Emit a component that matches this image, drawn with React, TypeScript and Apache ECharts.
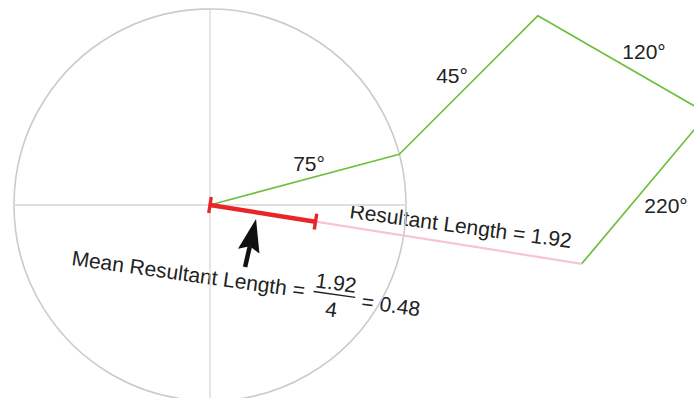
import React, { useEffect, useRef } from "react";
import * as echarts from "echarts";

// ---- data ----
const bearingsDeg = [75, 45, 120, 220];
const angleLabels = ["75°", "45°", "120°", "220°"];
const resultantLength = 1.92;
const sampleSize = 4;
const meanResultantLength = 0.48;
const drawnMeanLength = 0.545; // red bar length as drawn in the picture (unit-circle units)
const arrowTail = [0.179, -0.316];
const arrowTip = [0.235, -0.071];

const FONT = "Liberation Sans, Arial, Helvetica, sans-serif";
const TXT = "#222222";

function buildPath(): number[][] {
  const pts: number[][] = [[0, 0]];
  let x = 0;
  let y = 0;
  for (const b of bearingsDeg) {
    const r = (b * Math.PI) / 180;
    x += Math.sin(r);
    y += Math.cos(r);
    pts.push([x, y]);
  }
  return pts;
}

function txt(text: string, x: number, y: number, align = "center", vAlign = "middle") {
  return {
    type: "text",
    x,
    y,
    silent: true,
    style: {
      text,
      font: `21px ${FONT}`,
      fill: TXT,
      align,
      verticalAlign: vAlign,
      textAlign: align,
      textVerticalAlign: vAlign,
    },
  };
}

export default function App() {
  const ref = useRef<HTMLDivElement>(null);
  useEffect(() => {
    if (!ref.current) return;
    const chart = echarts.init(ref.current, undefined, { renderer: "svg" });
    const path = buildPath();
    const end = path[path.length - 1];
    const endLen = Math.hypot(end[0], end[1]);
    const redEnd = [(end[0] / endLen) * drawnMeanLength, (end[1] / endLen) * drawnMeanLength];
    const angleDeg = (Math.atan2(end[1], end[0]) * 180) / Math.PI; // negative (below horizontal)

    const S = 196; // px per unit
    const cx = 210;
    const cy = 205;
    const W = 694;
    const H = 398;

    chart.setOption({
      animation: false,
      grid: { left: 0, right: 0, top: 0, bottom: 0 },
      xAxis: { type: "value", min: -cx / S, max: (W - cx) / S, show: false },
      yAxis: { type: "value", min: -(H - cy) / S, max: cy / S, show: false },
      series: [
        {
          type: "custom",
          silent: true,
          data: [[0, 0]],
          renderItem: (_p: any, api: any) => {
            const c = api.coord([0, 0]);
            const e = api.coord([1, 0]);
            return {
              type: "circle",
              shape: { cx: c[0], cy: c[1], r: e[0] - c[0] },
              style: { fill: "none", stroke: "#cbcbcb", lineWidth: 1.6 },
            };
          },
        },
        {
          type: "line",
          silent: true,
          symbol: "none",
          data: [[-1, 0], [1, 0]],
          lineStyle: { color: "#e0e0e0", width: 2 },
        },
        {
          type: "line",
          silent: true,
          symbol: "none",
          data: [[0, -1], [0, 1]],
          lineStyle: { color: "#cdcdcd", width: 1 },
        },
        {
          type: "line",
          silent: true,
          symbol: "none",
          data: path,
          lineStyle: { color: "#6cbf3c", width: 1.7 },
        },
        {
          type: "line",
          silent: true,
          symbol: "none",
          data: [[0, 0], end],
          lineStyle: { color: "#f6c4d6", width: 2.2 },
        },
        {
          type: "line",
          silent: true,
          symbol: "rect",
          symbolSize: [3.4, 16],
          symbolRotate: angleDeg,
          showAllSymbol: true,
          data: [[0, 0], redEnd],
          itemStyle: { color: "#e8262a" },
          lineStyle: { color: "#e8262a", width: 4.5 },
        },
        {
          type: "custom",
          silent: true,
          data: [arrowTip],
          renderItem: (_p: any, api: any) => {
            const t = api.coord(arrowTail);
            const p = api.coord(arrowTip);
            const dx = p[0] - t[0];
            const dy = p[1] - t[1];
            const L = Math.hypot(dx, dy);
            const ux = dx / L;
            const uy = dy / L;
            const nx = -uy;
            const ny = ux;
            const headLen = 33;
            const halfW = 11;
            const notch = 5;
            const bx = p[0] - ux * headLen;
            const by = p[1] - uy * headLen;
            return {
              type: "group",
              children: [
                {
                  type: "line",
                  shape: { x1: t[0], y1: t[1], x2: bx + ux * notch, y2: by + uy * notch },
                  style: { stroke: "#111", lineWidth: 4.5 },
                },
                {
                  type: "polygon",
                  shape: {
                    points: [
                      [p[0], p[1]],
                      [bx + nx * halfW, by + ny * halfW],
                      [bx + ux * notch, by + uy * notch],
                      [bx - nx * halfW, by - ny * halfW],
                    ],
                  },
                  style: { fill: "#111" },
                },
              ],
            };
          },
        },
      ],
      graphic: [
        txt(angleLabels[0], 309, 163),
        txt(angleLabels[1], 452, 75),
        txt(angleLabels[2], 644, 51),
        txt(angleLabels[3], 666, 205),
        {
          type: "group",
          x: 349,
          y: 218,
          rotation: (-7.7 * Math.PI) / 180,
          children: [txt(`Resultant Length = ${resultantLength}`, 0, -7.5, "left")],
        },
        {
          type: "group",
          x: 71,
          y: 265,
          rotation: (-8 * Math.PI) / 180,
          children: [
            txt("Mean Resultant Length =", 0, -7.5, "left"),
            txt(`${resultantLength}`, 265, -19.5),
            {
              type: "line",
              silent: true,
              shape: { x1: 244, y1: -7.5, x2: 286, y2: -7.5 },
              style: { stroke: TXT, lineWidth: 1.4 },
            },
            txt(`${sampleSize}`, 264, 7.5),
            txt(`= ${meanResultantLength}`, 293, -5, "left"),
          ],
        },
      ],
    });
    return () => chart.dispose();
  }, []);
  return (
    <div
      ref={ref}
      style={{ position: "fixed", left: 0, top: 0, width: 694, height: 398, background: "#fff" }}
    />
  );
}
